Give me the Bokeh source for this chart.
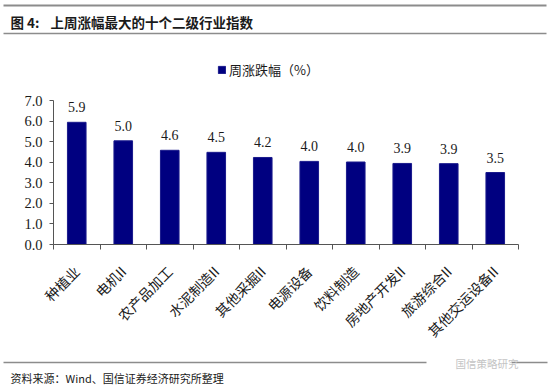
import math
from bokeh.plotting import figure
from bokeh.layouts import column, row
from bokeh.models import (Range1d, FixedTicker, PrintfTickFormatter,
                          Legend, LegendItem, ColumnDataSource)
from bokeh.core.properties import value
from bokeh.embed import file_html
from bokeh.resources import INLINE

# ---- data ----
categories = ["种植业", "电机II", "农产品加工", "水泥制造II", "其他采掘II",
              "电源设备", "饮料制造", "房地产开发II", "旅游综合II", "其他交运设备II"]
weekly_change = [5.94, 5.04, 4.58, 4.48, 4.23, 4.04, 4.01, 3.94, 3.93, 3.50]
series_name = "周涨跌幅（%）"
title_prefix = "图 4:"
title_text = "上周涨幅最大的十个二级行业指数"
source_text = "资料来源：Wind、国信证券经济研究所整理"
watermark_text = "国信策略研究"
y_ticks = [0, 1, 2, 3, 4, 5, 6, 7]

CJK = "Noto Sans CJK SC"
SERIF = "Liberation Serif"
W = 550
BAR_FILL = "#000080"
BAR_LINE = "#1a1a8c"
RULE = "#8c8c8c"

# ---- header (title + legend) ----
HH = 90
head = figure(width=W, height=HH, x_range=Range1d(0, W), y_range=Range1d(HH, 0),
              x_axis_type=None, y_axis_type=None, toolbar_location=None,
              output_backend="svg", min_border=0, outline_line_color=None)
head.grid.visible = False
head.segment(x0=[3, 3], y0=[5, 33], x1=[546, 546], y1=[5, 33],
             line_color=RULE, line_width=[2, 1.5])
head.text(x=[10, 50], y=[21, 21], text=[title_prefix, title_text],
          text_font=value(CJK), text_font_size="13.5px", text_font_style="bold",
          text_color="#1a1a1a", text_baseline="middle", text_align="left")
legend_swatch = head.vbar(x=[float("nan")], top=[float("nan")], width=1,
                          fill_color=BAR_FILL, line_color=BAR_LINE)
legend = Legend(items=[LegendItem(label=series_name, renderers=[legend_swatch])],
                location=(217, 11), orientation="horizontal",
                glyph_width=9, glyph_height=9, label_height=14,
                label_standoff=3, padding=2, margin=0, spacing=0,
                border_line_color=None, background_fill_alpha=0,
                label_text_font=CJK, label_text_font_size="13px",
                label_text_color="#1a1a1a")
head.add_layout(legend, "center")

# ---- main chart ----
xs = [i + 0.5 for i in range(len(categories))]
labels = ["%.1f" % v for v in weekly_change]
src = ColumnDataSource(dict(x=xs, top=weekly_change, lab=labels))

p = figure(width=W, height=262, x_range=Range1d(0, len(categories)),
           y_range=Range1d(0, 7), toolbar_location=None, output_backend="svg",
           min_border_left=53, min_border_right=32, min_border_top=10,
           min_border_bottom=108, outline_line_color=None)
p.grid.visible = False

bars = p.vbar(x="x", top="top", width=0.4, source=src,
              fill_color=BAR_FILL, line_color=BAR_LINE)
p.text(x="x", y="top", text="lab", source=src, text_align="center",
       text_baseline="bottom", y_offset=-10, text_font=value(SERIF),
       text_font_size="14px", text_color="#1a1a1a")

ax_col = "#555555"
p.yaxis.ticker = FixedTicker(ticks=y_ticks)
p.yaxis.formatter = PrintfTickFormatter(format="%.1f")
p.yaxis.major_tick_in = 0
p.yaxis.major_tick_out = 4
p.yaxis.minor_tick_line_color = None
p.yaxis.axis_line_color = ax_col
p.yaxis.major_tick_line_color = ax_col
p.yaxis.major_label_text_font = SERIF
p.yaxis.major_label_text_font_size = "14.5px"
p.yaxis.major_label_text_color = "#1a1a1a"
p.yaxis.major_label_standoff = 7

p.xaxis.ticker = FixedTicker(ticks=xs, minor_ticks=list(range(len(categories) + 1)))
p.xaxis.major_label_overrides = {x: c for x, c in zip(xs, categories)}
p.xaxis.major_tick_in = 0
p.xaxis.major_tick_out = 0
p.xaxis.minor_tick_in = 0
p.xaxis.minor_tick_out = 5
p.xaxis.minor_tick_line_color = ax_col
p.xaxis.axis_line_color = ax_col
p.xaxis.major_label_orientation = math.pi / 4
p.xaxis.major_label_text_font = CJK
p.xaxis.major_label_text_font_size = "14px"
p.xaxis.major_label_text_color = "#1a1a1a"
p.xaxis.major_label_standoff = 19

# ---- footer ----
FH = 40
foot = figure(width=W, height=FH, x_range=Range1d(0, W), y_range=Range1d(FH, 0),
              x_axis_type=None, y_axis_type=None, toolbar_location=None,
              output_backend="svg", min_border=0, outline_line_color=None)
foot.grid.visible = False
foot.segment(x0=[3, 511], y0=[10, 10], x1=[426, 547], y1=[10, 10],
             line_color=RULE, line_width=1.5)
foot.text(x=[455], y=[11], text=[watermark_text], text_font=value(CJK),
          text_font_size="10.5px", text_color="#c4c4c4",
          text_baseline="middle", text_align="left")
foot.text(x=[10], y=[25], text=[source_text], text_font=value(CJK),
          text_font_size="11px", text_color="#1a1a1a",
          text_baseline="middle", text_align="left")

layout = column(row(head), p, row(foot), spacing=0)
open("out.html", "w").write(file_html(layout, INLINE))
